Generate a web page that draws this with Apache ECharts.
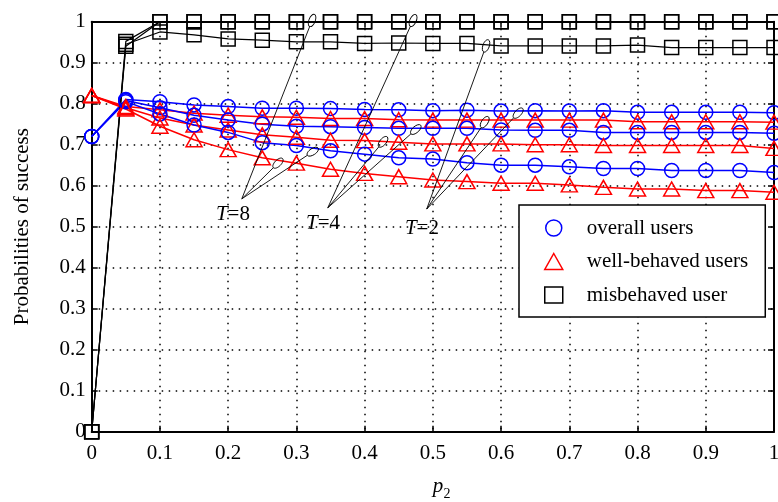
<!DOCTYPE html>
<html>
<head>
<meta charset="utf-8">
<script src="https://cdn.jsdelivr.net/npm/echarts@6/dist/echarts.min.js"></script>
<style>
  html, body { margin: 0; padding: 0; background: #fff; }
  #chart { width: 778px; height: 502px; }
</style>
</head>
<body>
<div id="chart"></div>
<script>
// Misbehaviour probability p2 (x axis)
const p2 = [0, 0.05, 0.1, 0.15, 0.2, 0.25, 0.3, 0.35, 0.4, 0.45, 0.5,
            0.55, 0.6, 0.65, 0.7, 0.75, 0.8, 0.85, 0.9, 0.95, 1];

// T = 2
const overallT2 = [0.72, 0.810, 0.805, 0.797, 0.793, 0.789, 0.789, 0.788, 0.786, 0.785, 0.783,
                   0.784, 0.782, 0.783, 0.782, 0.783, 0.779, 0.779, 0.779, 0.779, 0.778];
const wellT2    = [0.82, 0.793, 0.785, 0.777, 0.772, 0.768, 0.767, 0.764, 0.764, 0.761, 0.760,
                   0.760, 0.760, 0.760, 0.760, 0.760, 0.756, 0.756, 0.756, 0.756, 0.755];
const misT2     = [0, 0.945, 0.975, 0.968, 0.958, 0.955, 0.951, 0.951, 0.947, 0.948, 0.947,
                   0.947, 0.941, 0.941, 0.941, 0.941, 0.943, 0.937, 0.937, 0.937, 0.937];

// T = 4
const overallT4 = [0.72, 0.808, 0.790, 0.772, 0.760, 0.750, 0.745, 0.744, 0.742, 0.740, 0.740,
                   0.740, 0.736, 0.735, 0.735, 0.730, 0.730, 0.730, 0.730, 0.730, 0.728];
const wellT4    = [0.82, 0.790, 0.765, 0.748, 0.736, 0.724, 0.718, 0.711, 0.710, 0.706, 0.702,
                   0.702, 0.702, 0.700, 0.700, 0.698, 0.698, 0.698, 0.698, 0.698, 0.691];
const misT4     = [0, 0.940, 1, 1, 1, 1, 1, 1, 1, 1, 1,
                   1, 1, 1, 1, 1, 1, 1, 1, 1, 1];

// T = 8
const overallT8 = [0.72, 0.805, 0.775, 0.748, 0.730, 0.705, 0.698, 0.685, 0.677, 0.668, 0.665,
                   0.656, 0.650, 0.650, 0.646, 0.642, 0.642, 0.637, 0.637, 0.637, 0.632];
const wellT8    = [0.82, 0.787, 0.745, 0.712, 0.688, 0.668, 0.655, 0.640, 0.630, 0.622, 0.614,
                   0.610, 0.606, 0.606, 0.602, 0.596, 0.592, 0.592, 0.588, 0.588, 0.584];
const misT8     = [0, 0.952, 1, 1, 1, 1, 1, 1, 1, 1, 1,
                   1, 1, 1, 1, 1, 1, 1, 1, 1, 1];

const groupNames = ['overall users', 'well-behaved users', 'misbehaved user'];

// Callouts: text anchor, hub where the pointer lines meet, and the points they mark (data coords)
const calloutT = ['8', '4', '2'];
const calloutLabelAt = [[0.207, 0.529], [0.339, 0.508], [0.484, 0.496]];
const calloutHub = [[0.220, 0.568], [0.346, 0.546], [0.491, 0.543]];
const calloutTargets = [
  [[0.323, 1.003], [0.273, 0.655], [0.324, 0.683]],
  [[0.471, 1.003], [0.427, 0.707], [0.475, 0.737]],
  [[0.578, 0.941], [0.576, 0.755], [0.625, 0.777]]
];

const FONT = '"Liberation Serif", "Times New Roman", serif';
const BLUE = '#0000ff', RED = '#ff0000', BLACK = '#000000';

function lineSeries(id, name, values, symbol, size, color) {
  return {
    id: id,
    type: 'line',
    name: name,
    data: p2.map((x, i) => [x, values[i]]),
    symbol: symbol,
    symbolSize: size,
    showAllSymbol: true,
    lineStyle: { color: color, width: 1.5 },
    itemStyle: { color: 'rgba(0,0,0,0)', borderColor: color, borderWidth: 1.5 },
    emphasis: { disabled: true },
    silent: true
  };
}

const series = [
  lineSeries('o2', groupNames[0], overallT2, 'circle', 14, BLUE),
  lineSeries('w2', groupNames[1], wellT2, 'triangle', [16, 14], RED),
  lineSeries('m2', groupNames[2], misT2, 'rect', 14, BLACK),
  lineSeries('o4', groupNames[0], overallT4, 'circle', 14, BLUE),
  lineSeries('w4', groupNames[1], wellT4, 'triangle', [16, 14], RED),
  lineSeries('m4', groupNames[2], misT4, 'rect', 14, BLACK),
  lineSeries('o8', groupNames[0], overallT8, 'circle', 14, BLUE),
  lineSeries('w8', groupNames[1], wellT8, 'triangle', [16, 14], RED),
  lineSeries('m8', groupNames[2], misT8, 'rect', 14, BLACK)
];
series.forEach(s => { if (s.lineStyle.color === BLACK) s.lineStyle.width = 1.2; });

const boxAxis = (pos, labels) => ({
  type: 'value', min: 0, max: 1, interval: 0.1, position: pos,
  axisLine: { show: true, onZero: false, lineStyle: { color: '#000', width: 2 } },
  axisTick: { show: true, inside: true, length: 6, lineStyle: { color: '#000', width: 1.5 } },
  axisLabel: { show: labels, color: '#000', fontFamily: FONT, fontSize: 21 },
  splitLine: { show: labels, lineStyle: { color: '#000', width: 1.5, type: [1.5, 5.5] } }
});

const xMain = boxAxis('bottom', true);
xMain.axisLabel.margin = 11;
const yMain = boxAxis('left', true);
yMain.axisLabel.margin = 6;
yMain.name = 'Probabilities of success';
yMain.nameLocation = 'middle';
yMain.nameGap = 59;
yMain.nameTextStyle = { color: '#000', fontFamily: FONT, fontSize: 21 };

const chart = echarts.init(document.getElementById('chart'), null, { renderer: 'canvas' });

chart.setOption({
  animation: false,
  backgroundColor: '#fff',
  grid: { left: 91.7, right: 4, top: 21.7, bottom: 70.3, containLabel: false, outerBoundsMode: 'none' },
  xAxis: [xMain, boxAxis('top', false)],
  yAxis: [yMain, boxAxis('right', false)],
  legend: {
    orient: 'vertical',
    left: 519, top: 205,
    padding: [12, 17, 11, 25],
    itemWidth: 18, itemHeight: 16, itemGap: 11.5,
    selectedMode: false,
    backgroundColor: '#fff',
    borderColor: '#000', borderWidth: 1.5, borderRadius: 0,
    textStyle: { color: '#000', fontFamily: FONT, fontSize: 21, lineHeight: 22, padding: [0, 0, 0, 19] },
    data: [
      { name: groupNames[0], icon: 'circle',
        itemStyle: { color: 'rgba(0,0,0,0)', borderColor: BLUE, borderWidth: 1.5 } },
      { name: groupNames[1], icon: 'triangle',
        itemStyle: { color: 'rgba(0,0,0,0)', borderColor: RED, borderWidth: 1.5 } },
      { name: groupNames[2], icon: 'rect',
        itemStyle: { color: 'rgba(0,0,0,0)', borderColor: BLACK, borderWidth: 1.5 } }
    ]
  },
  series: series
});

// Pointer lines, small ellipses and the "T=..." callouts
function buildCallouts() {
  const items = [];
  const RX = 3.2, RY = 6.5;
  calloutT.forEach((t, k) => {
    const hub = chart.convertToPixel({ gridIndex: 0 }, calloutHub[k]);
    calloutTargets[k].forEach(target => {
      const p = chart.convertToPixel({ gridIndex: 0 }, target);
      const dx = p[0] - hub[0], dy = p[1] - hub[1];
      const len = Math.hypot(dx, dy);
      const ux = dx / len, uy = dy / len;
      items.push({
        type: 'line', silent: true, z: 100,
        shape: { x1: hub[0], y1: hub[1], x2: p[0] - ux * RY, y2: p[1] - uy * RY },
        style: { stroke: '#000', lineWidth: 0.9 }
      });
      items.push({
        type: 'ellipse', silent: true, z: 100,
        x: p[0], y: p[1], rotation: -Math.atan2(ux, -uy),
        shape: { cx: 0, cy: 0, rx: RX, ry: RY },
        style: { fill: 'none', stroke: '#000', lineWidth: 0.9 }
      });
    });
    const lp = chart.convertToPixel({ gridIndex: 0 }, calloutLabelAt[k]);
    items.push({
      type: 'text', silent: true, z: 100,
      x: lp[0], y: lp[1],
      style: {
        text: '{i|T}=' + t,
        fill: '#000', fontFamily: FONT, fontSize: 21,
        align: 'center', verticalAlign: 'middle',
        rich: { i: { fontStyle: 'italic', fontFamily: FONT, fontSize: 21, fill: '#000' } }
      }
    });
  });
  // x-axis title p2 with subscript
  items.push({
    type: 'text', silent: true, x: 438, y: 486,
    style: { text: 'p', fill: '#000', fontFamily: FONT, fontSize: 21, fontStyle: 'italic',
             align: 'center', verticalAlign: 'middle' }
  });
  items.push({
    type: 'text', silent: true, x: 447, y: 494,
    style: { text: '2', fill: '#000', fontFamily: FONT, fontSize: 14,
             align: 'center', verticalAlign: 'middle' }
  });
  chart.setOption({ graphic: items });
}
buildCallouts();
</script>
</body>
</html>
